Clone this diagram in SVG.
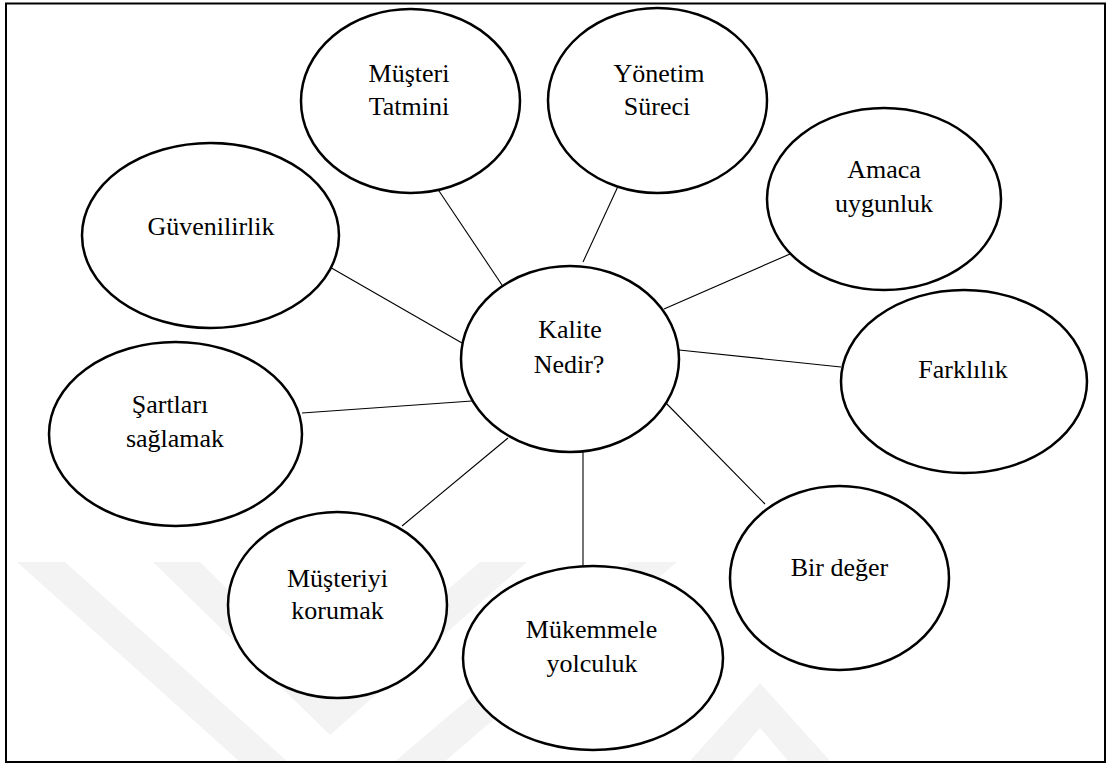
<svg xmlns="http://www.w3.org/2000/svg" width="1112" height="765" viewBox="0 0 1112 765">
  <style>
    .node ellipse { fill: #ffffff; stroke: #000000; stroke-width: 2.5; }
    text { font-family: 'Liberation Serif', 'Times New Roman', 'DejaVu Serif', 'Noto Serif', serif; font-size: 26px; fill: #000000; text-anchor: middle; }
    .conn line { stroke: #000000; stroke-width: 1.1; }
    .wm { fill: #f3f3f3; stroke: none; }
  </style>
  <rect x="0" y="0" width="1112" height="765" fill="#ffffff"/>
  <g id="watermark">
    <polygon class="wm" points="17,562 65,562 288,762 240,762"/>
    <polygon class="wm" points="153,562 200,562 330,690 480,562 527,562 330,735"/>
    <polygon class="wm" points="393,763 443,763 677,562 630,562"/>
    <polygon class="wm" points="688,763 760,683 832,763 790,763 760,728 730,763"/>
  </g>
  <rect id="frame" x="6" y="3.5" width="1099" height="758.5" fill="none" stroke="#000000" stroke-width="2"/>
  <g id="connectors" class="conn">
    <line x1="433" y1="182" x2="502" y2="285"/>
    <line x1="620" y1="182" x2="583" y2="262"/>
    <line x1="790" y1="254" x2="664" y2="309"/>
    <line x1="328" y1="266" x2="462" y2="343"/>
    <line x1="679" y1="350" x2="841" y2="367"/>
    <line x1="302" y1="413" x2="472" y2="401"/>
    <line x1="402" y1="526" x2="508" y2="438"/>
    <line x1="583" y1="452" x2="583" y2="566"/>
    <line x1="663" y1="400" x2="765" y2="504"/>
  </g>
  <g id="node-musteri-tatmini" class="node">
    <ellipse cx="410.5" cy="101" rx="109.5" ry="92"/>
    <text x="409" y="82" style="font-family:'Liberation Serif',serif">Müşteri</text>
    <text x="409" y="115" style="font-family:'Liberation Serif',serif">Tatmini</text>
  </g>
  <g id="node-yonetim-sureci" class="node">
    <ellipse cx="657.5" cy="100.5" rx="109.5" ry="92.5"/>
    <text x="659" y="82" style="font-family:'Liberation Serif',serif">Yönetim</text>
    <text x="657" y="115" style="font-family:'Liberation Serif',serif">Süreci</text>
  </g>
  <g id="node-amaca-uygunluk" class="node">
    <ellipse cx="884" cy="199" rx="117" ry="91"/>
    <text x="884" y="178" style="font-family:'Liberation Serif',serif">Amaca</text>
    <text x="884" y="212" style="font-family:'Liberation Serif',serif">uygunluk</text>
  </g>
  <g id="node-guvenilirlik" class="node">
    <ellipse cx="210.5" cy="235.5" rx="128.5" ry="92.5"/>
    <text x="211" y="235" style="font-family:'Liberation Serif',serif">Güvenilirlik</text>
  </g>
  <g id="node-kalite" class="node">
    <ellipse cx="570" cy="359" rx="109" ry="93"/>
    <text x="570" y="338" style="font-family:'Liberation Serif',serif">Kalite</text>
    <text x="569" y="373" style="font-family:'Liberation Serif',serif">Nedir?</text>
  </g>
  <g id="node-farklilik" class="node">
    <ellipse cx="964" cy="381.5" rx="123" ry="91.5"/>
    <text x="963" y="378" style="font-family:'Liberation Serif',serif">Farklılık</text>
  </g>
  <g id="node-sartlari-saglamak" class="node">
    <ellipse cx="175.5" cy="434" rx="126.5" ry="92"/>
    <text x="170" y="413" style="font-family:'Liberation Serif',serif">Şartları</text>
    <text x="175" y="447" style="font-family:'Liberation Serif',serif">sağlamak</text>
  </g>
  <g id="node-musteriyi-korumak" class="node">
    <ellipse cx="337.5" cy="605" rx="109.5" ry="93"/>
    <text x="337.5" y="587" style="font-family:'Liberation Serif',serif">Müşteriyi</text>
    <text x="337.5" y="619" style="font-family:'Liberation Serif',serif">korumak</text>
  </g>
  <g id="node-mukemmele-yolculuk" class="node">
    <ellipse cx="593" cy="658" rx="130" ry="92"/>
    <text x="591.5" y="638" style="font-family:'Liberation Serif',serif">Mükemmele</text>
    <text x="592" y="672" style="font-family:'Liberation Serif',serif">yolculuk</text>
  </g>
  <g id="node-bir-deger" class="node">
    <ellipse cx="839.5" cy="578" rx="109.5" ry="92"/>
    <text x="839.5" y="576" style="font-family:'Liberation Serif',serif">Bir değer</text>
  </g>
</svg>
